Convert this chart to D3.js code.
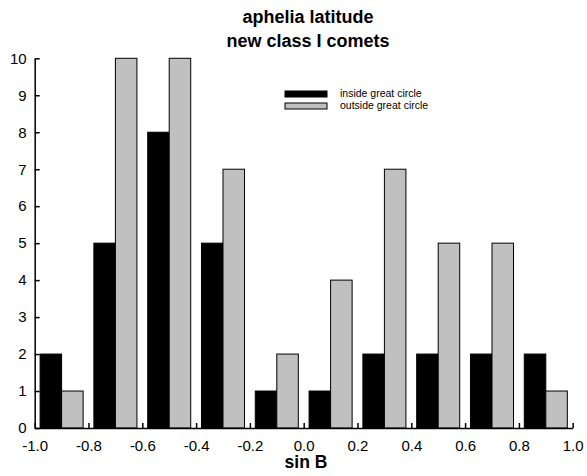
<!DOCTYPE html>
<html>
<head>
<meta charset="utf-8">
<script src="https://cdn.jsdelivr.net/npm/d3@7"></script>
<style>
body { margin: 0; background: #fff; }
svg { display: block; font-family: "Liberation Sans", Arial, sans-serif; }
</style>
</head>
<body>
<svg id="chart" width="587" height="476"></svg>
<script>
const binStarts = [-1.0, -0.8, -0.6, -0.4, -0.2, 0.0, 0.2, 0.4, 0.6, 0.8];
const insideValues = [2, 5, 8, 5, 1, 1, 2, 2, 2, 2];
const outsideValues = [1, 10, 10, 7, 2, 4, 7, 5, 5, 1];
const seriesNames = ["inside great circle", "outside great circle"];
const seriesColors = ["#000000", "#c0c0c0"];
const xTicks = [-1.0, -0.8, -0.6, -0.4, -0.2, 0.0, 0.2, 0.4, 0.6, 0.8, 1.0];
const yTicks = [0, 1, 2, 3, 4, 5, 6, 7, 8, 9, 10];
const binWidth = 0.2;

const svg = d3.select("#chart");
const x = d3.scaleLinear().domain([-1, 1]).range([34.7, 572.7]);
const y = d3.scaleLinear().domain([0, 10]).range([428, 58.3]);

// title
svg.append("text").attr("x", 308).attr("y", 23).attr("text-anchor", "middle")
  .attr("font-weight", "bold").attr("font-size", 18).text("aphelia latitude");
svg.append("text").attr("x", 308).attr("y", 46.5).attr("text-anchor", "middle")
  .attr("font-weight", "bold").attr("font-size", 18).text("new class I comets");

// bars
const data = binStarts.map((b, i) => ({ b, vals: [insideValues[i], outsideValues[i]] }));
const pad = 0.1 * binWidth;
const barW = (binWidth - 2 * pad) / 2;
data.forEach(d => {
  d.vals.forEach((v, k) => {
    const x0 = x(d.b + pad + k * barW);
    const x1 = x(d.b + pad + (k + 1) * barW);
    svg.append("rect")
      .attr("x", x0).attr("y", y(v))
      .attr("width", x1 - x0).attr("height", y(0) - y(v))
      .attr("fill", seriesColors[k]).attr("stroke", "#000").attr("stroke-width", 1);
  });
});

// y axis
const yAxis = svg.append("g").attr("transform", `translate(${x(-1)},0)`)
  .call(d3.axisRight(y).tickValues(yTicks).tickSize(5).tickSizeOuter(0).tickFormat(d3.format("d")));
yAxis.select(".domain").attr("stroke", "#000").attr("stroke-width", 1.5);
yAxis.selectAll(".tick line").attr("stroke", "#000").attr("stroke-width", 1.5);
yAxis.selectAll(".tick text").attr("x", -8).attr("text-anchor", "end")
  .attr("font-size", 15).attr("fill", "#000").attr("font-family", "Liberation Sans, Arial, sans-serif");

// x axis
const xAxis = svg.append("g").attr("transform", `translate(0,${y(0)})`)
  .call(d3.axisTop(x).tickValues(xTicks).tickSize(5).tickSizeOuter(0).tickFormat(d3.format(".1f")));
xAxis.select(".domain").attr("stroke", "#000").attr("stroke-width", 1.5);
xAxis.selectAll(".tick line").attr("stroke", "#000").attr("stroke-width", 1.5);
xAxis.selectAll(".tick text").attr("y", 22.5).attr("dy", 0)
  .attr("font-size", 15).attr("fill", "#000").attr("font-family", "Liberation Sans, Arial, sans-serif")
  .text(d => d3.format(".1f")(d).replace("−", "-"));

// x label
svg.append("text").attr("x", 306).attr("y", 468).attr("text-anchor", "middle")
  .attr("font-weight", "bold").attr("font-size", 17.5).text("sin B");

// legend
const legend = svg.append("g").attr("transform", "translate(285,91)");
seriesNames.forEach((n, i) => {
  legend.append("rect").attr("x", 0).attr("y", i * 12).attr("width", 42).attr("height", 6)
    .attr("fill", seriesColors[i]).attr("stroke", "#000").attr("stroke-width", 1);
  legend.append("text").attr("x", 55).attr("y", i * 12 + 6).attr("font-size", 10.5).text(n);
});
</script>
</body>
</html>
